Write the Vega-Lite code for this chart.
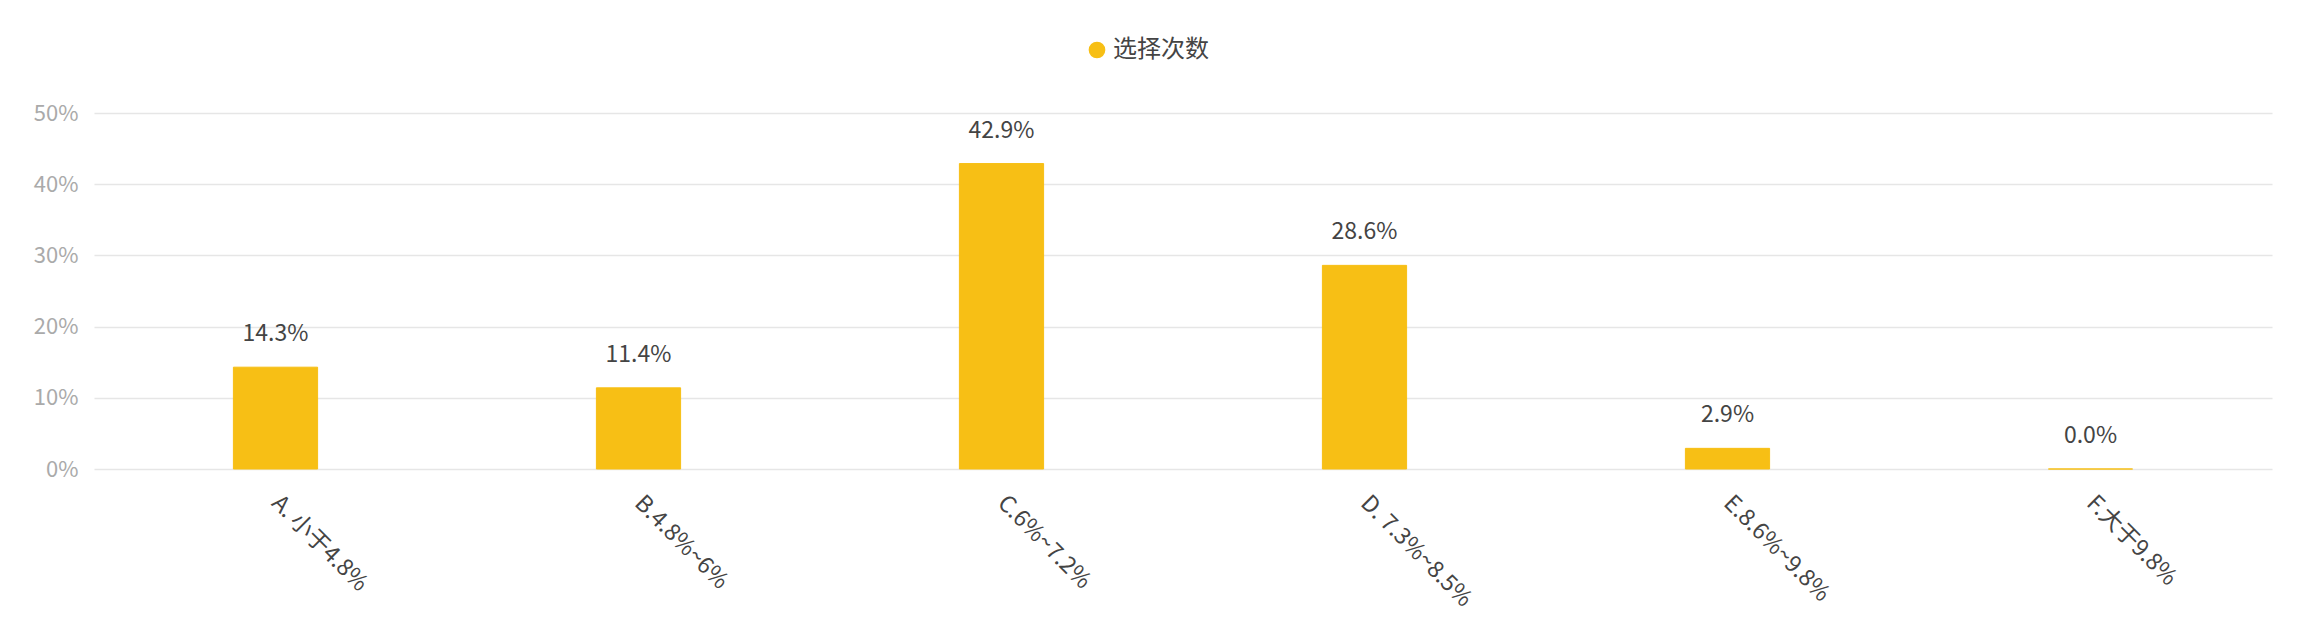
{
  "$schema": "https://vega.github.io/schema/vega-lite/v6.json",
  "autosize": "none",
  "width": 2178,
  "height": 356,
  "padding": {"left": 94, "top": 113, "right": 28, "bottom": 157},
  "background": "white",
  "data": {"values": [
    {"cat": "A. 小于4.8%", "v": 0.143, "label": "14.3%", "series": "选择次数"},
    {"cat": "B.4.8%~6%", "v": 0.114, "label": "11.4%", "series": "选择次数"},
    {"cat": "C.6%~7.2%", "v": 0.429, "label": "42.9%", "series": "选择次数"},
    {"cat": "D. 7.3%~8.5%", "v": 0.286, "label": "28.6%", "series": "选择次数"},
    {"cat": "E.8.6%~9.8%", "v": 0.029, "label": "2.9%", "series": "选择次数"},
    {"cat": "F.大于9.8%", "v": 0.0, "label": "0.0%", "series": "选择次数"}
  ]},
  "encoding": {
    "x": {"field": "cat", "type": "nominal", "sort": null,
      "scale": {"paddingInner": 0, "paddingOuter": 0},
      "axis": {"title": null, "labelAngle": 45, "labelAlign": "left", "labelBaseline": "middle",
        "labelFont": "Noto Sans CJK SC", "labelFontSize": 23, "labelColor": "#444444",
        "labelPadding": 30, "domain": false, "ticks": false, "grid": false, "labelOverlap": false}},
    "y": {"field": "v", "type": "quantitative",
      "scale": {"domain": [0, 0.5], "nice": false},
      "axis": {"title": null, "format": ".0%", "values": [0, 0.1, 0.2, 0.3, 0.4, 0.5],
        "labelFont": "Noto Sans CJK SC", "labelFontSize": 22, "labelColor": "#AAAAAA",
        "labelPadding": 16, "domain": false, "ticks": false, "labelOverlap": false, "labelFlush": false,
        "grid": true, "gridColor": "#E6E6E6", "gridWidth": 1.5}}
  },
  "layer": [
    {"mark": {"type": "bar", "width": {"band": 0.232}, "stroke": "#F7BF15", "strokeWidth": 1},
     "encoding": {
       "color": {"field": "series", "type": "nominal",
         "scale": {"range": ["#F7BF15"]},
         "legend": {"title": null, "orient": "none", "legendX": 991, "legendY": -75,
           "direction": "horizontal", "symbolType": "circle", "symbolSize": 230,
           "labelFont": "Noto Sans CJK SC", "labelFontSize": 24, "labelColor": "#444444",
           "labelOffset": 4}}
     }},
    {"mark": {"type": "text", "dy": -33, "baseline": "middle", "font": "Noto Sans CJK SC", "fontSize": 23, "color": "#444444"},
     "encoding": {"text": {"field": "label"}}}
  ],
  "config": {"view": {"stroke": null}}
}
